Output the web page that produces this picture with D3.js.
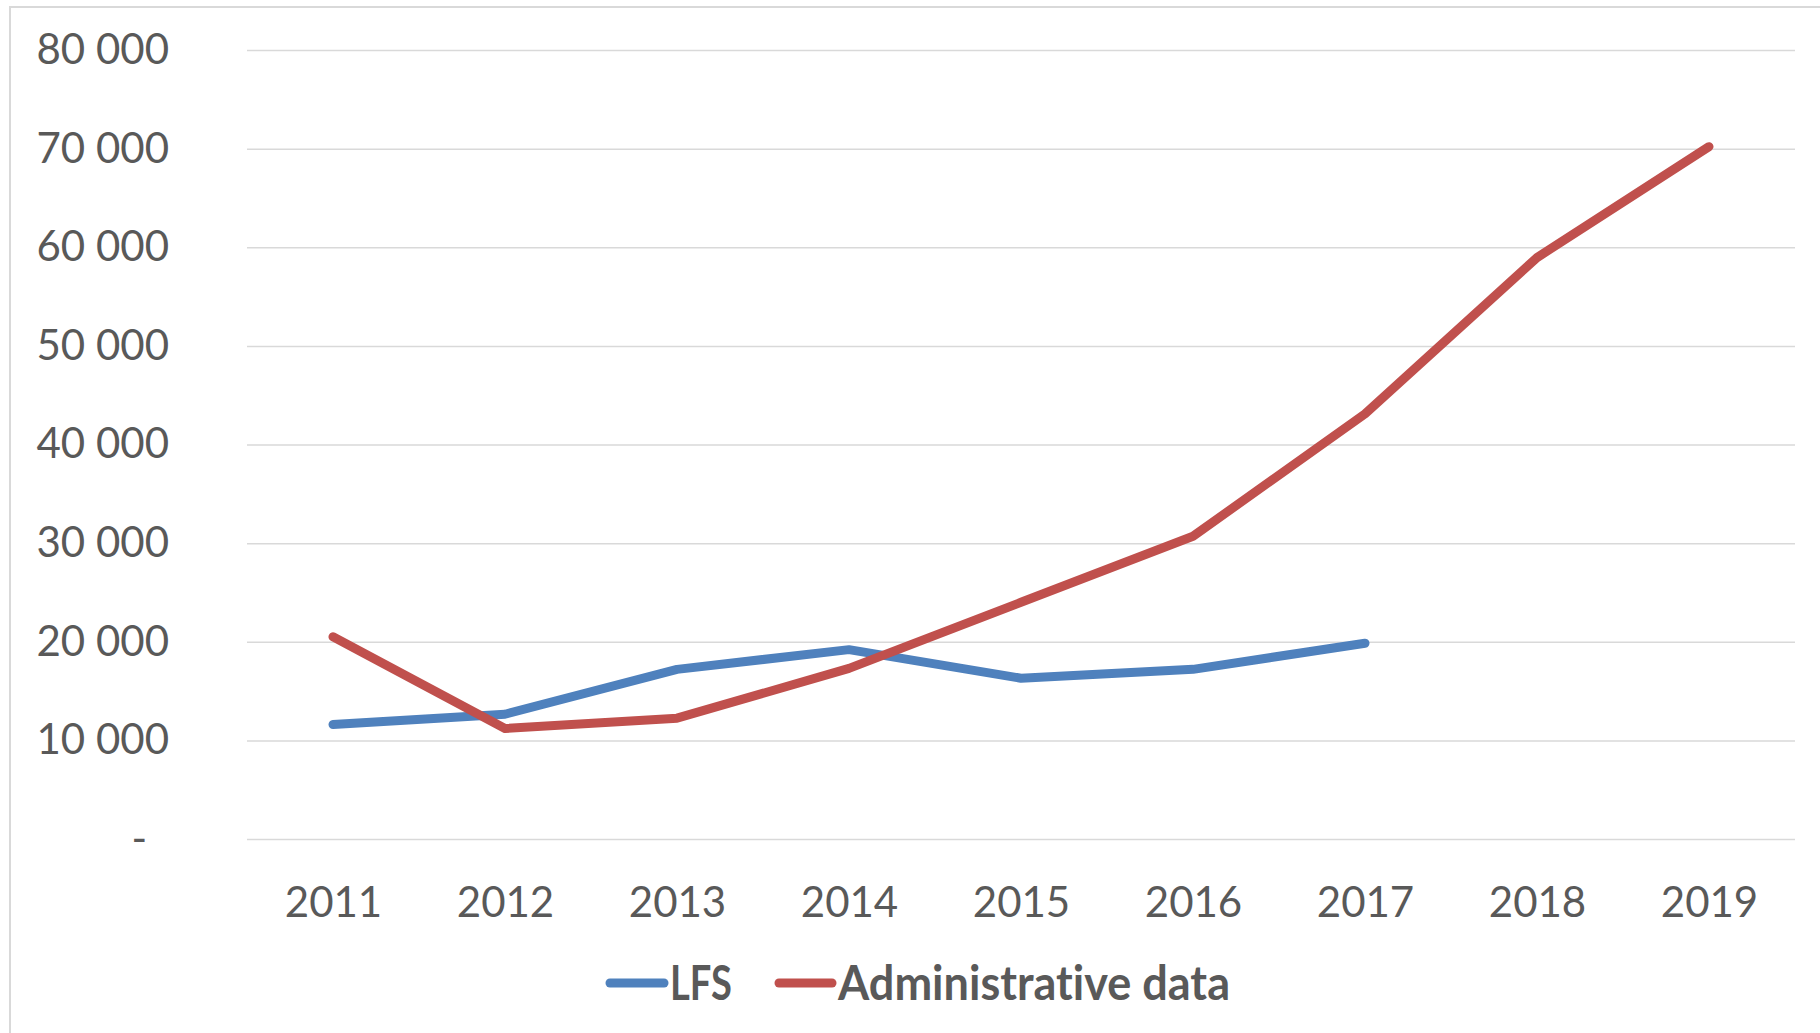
<!DOCTYPE html>
<html>
<head>
<meta charset="utf-8">
<script src="https://cdn.jsdelivr.net/npm/d3@7"></script>
<style>
  html, body { margin: 0; padding: 0; background: #ffffff; }
  svg { display: block; }
  text { font-family: Lato, "Open Sans", sans-serif; fill: #595959; font-variant-ligatures: none; }
</style>
</head>
<body>
<script>
// Chart data
const years = ["2011", "2012", "2013", "2014", "2015", "2016", "2017", "2018", "2019"];
const lfs = [11600, 12650, 17200, 19200, 16300, 17200, 19850, null, null];
const administrative = [20500, 11200, 12250, 17300, 24000, 30700, 43100, 58950, 70200];
const yTicks = [0, 10000, 20000, 30000, 40000, 50000, 60000, 70000, 80000];
const seriesNames = ["LFS", "Administrative data"];
const seriesColors = ["#4F81BD", "#C0504D"];

const W = 1820, H = 1033;
const plot = { left: 247, right: 1795, top: 50, bottom: 839 };

const svg = d3.select("body").append("svg")
  .attr("width", W).attr("height", H);

// Outer chart frame
svg.append("rect")
  .attr("x", 10).attr("y", 7)
  .attr("width", W + 10).attr("height", H + 10)
  .attr("fill", "none").attr("stroke", "#d9d9d9").attr("stroke-width", 2);

const x = d3.scalePoint().domain(years).range([plot.left, plot.right]).padding(0.5);
const y = d3.scaleLinear().domain([0, 80000]).range([plot.bottom, plot.top]);

// Thousands separated by a space; zero shown as a dash
const fmt = v => v === 0 ? "-" : d3.format(",")(v).replace(/,/g, "\u00a0");

// Horizontal gridlines with value labels
const yAxis = svg.append("g")
  .attr("transform", `translate(${plot.left},0)`)
  .call(d3.axisLeft(y).tickValues(yTicks).tickFormat(fmt)
    .tickSize(-(plot.right - plot.left)).tickPadding(78));
yAxis.select(".domain").remove();
yAxis.selectAll(".tick line").attr("stroke", "#d9d9d9").attr("stroke-width", 1.5);
yAxis.selectAll(".tick text")
  .attr("font-size", 42).attr("fill", "#595959")
  .style("font-family", "Lato, sans-serif");
yAxis.selectAll(".tick").filter(d => d === 0).select("text").attr("dx", -22);

// Category labels
const xAxis = svg.append("g")
  .attr("transform", `translate(0,${plot.bottom})`)
  .call(d3.axisBottom(x).tickSize(0).tickPadding(48));
xAxis.select(".domain").remove();
xAxis.selectAll(".tick text")
  .attr("font-size", 42).attr("fill", "#595959")
  .style("font-family", "Lato, sans-serif");

// Series lines
const line = d3.line()
  .defined(d => d.v !== null)
  .x(d => x(d.year))
  .y(d => y(d.v));

[lfs, administrative].forEach((vals, i) => {
  const pts = years.map((yr, j) => ({ year: yr, v: vals[j] }));
  svg.append("path")
    .datum(pts)
    .attr("fill", "none")
    .attr("stroke", seriesColors[i])
    .attr("stroke-width", 9)
    .attr("stroke-linecap", "round")
    .attr("stroke-linejoin", "round")
    .attr("d", line);
});

// Legend
const legendItems = [
  { x0: 610, x1: 664, tx: 670, tw: 62 },
  { x0: 779, x1: 832, tx: 838, tw: 392 }
];
const legendY = 983;
legendItems.forEach((it, i) => {
  svg.append("line")
    .attr("x1", it.x0).attr("x2", it.x1)
    .attr("y1", legendY).attr("y2", legendY)
    .attr("stroke", seriesColors[i]).attr("stroke-width", 9)
    .attr("stroke-linecap", "round");
  svg.append("text")
    .attr("x", it.tx).attr("y", 1000)
    .attr("font-size", 48).attr("font-weight", 700)
    .attr("textLength", it.tw).attr("lengthAdjust", "spacingAndGlyphs")
    .text(seriesNames[i]);
});
</script>
</body>
</html>
